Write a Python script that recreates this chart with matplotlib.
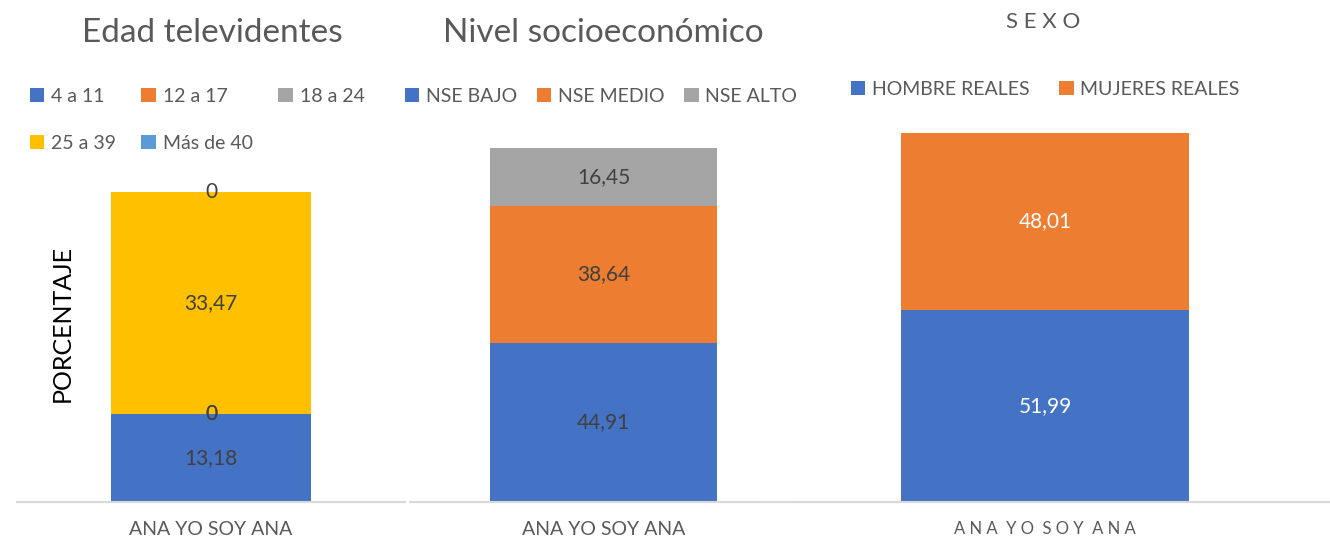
import numpy as np
import matplotlib
matplotlib.use('Agg')
import matplotlib.pyplot as plt

plt.rcParams['font.family'] = ['Lato', 'DejaVu Sans']

# data
categoria = ['ANA YO SOY ANA']
edad_series = ['4 a 11', '12 a 17', '18 a 24', '25 a 39', 'Más de 40']
edad_vals = [13.18, 0, 0, 33.47, 0]
nse_series = ['NSE BAJO', 'NSE MEDIO', 'NSE ALTO']
nse_vals = [44.91, 38.64, 16.45]
sexo_series = ['HOMBRE REALES', 'MUJERES REALES']
sexo_vals = [51.99, 48.01]

c_blue = '#4472C4'
c_orange = '#ED7D31'
c_gray = '#A5A5A5'
c_yellow = '#FFC000'
c_lblue = '#5B9BD5'
txt = '#595959'
lbl = '#404040'

W, H = 1330, 545
fig = plt.figure(figsize=(W / 100, H / 100), dpi=100)


def px_axes(x0, x1, ytop, ybot=502):
    return fig.add_axes([x0 / W, 1 - ybot / H, (x1 - x0) / W, (ybot - ytop) / H])


def stacked(ax, series, vals, colors, width, label_color):
    bottom = 0
    handles = []
    for s, v, c in zip(series, vals, colors):
        b = ax.bar(0, v, width, bottom=bottom, color=c, label=s)
        ax.bar_label(b, labels=[('%.2f' % v).replace('.', ',') if v else '0'],
                     label_type='center', color=label_color, fontsize=15)
        handles.append(b)
        bottom += v
    ax.set_xlim(-0.5, 0.5)
    ax.set_yticks([])
    for sp in ['top', 'right', 'left']:
        ax.spines[sp].set_visible(False)
    ax.spines['bottom'].set_color('#D9D9D9')
    ax.spines['bottom'].set_linewidth(1.5)
    ax.set_xticks([0])
    ax.tick_params(axis='x', length=0, pad=14, colors=txt)
    return handles


# panel 1 - edad
ax1 = px_axes(17, 405, 133)
h1 = stacked(ax1, edad_series, edad_vals, [c_blue, c_orange, c_gray, c_yellow, c_lblue],
             200 / 388, lbl)
ax1.set_ylim(0, 55.5)
ax1.set_xticklabels(categoria, fontsize=14)
fig.text(62 / W, 1 - 324 / H, 'PORCENTAJE', fontsize=18, color='black',
         rotation=90, ha='center', va='center')
order = [0, 3, 1, 4, 2]
ax1.legend([h1[i] for i in order], [edad_series[i] for i in order], ncol=3,
           loc='upper left', bbox_to_anchor=(22 / W, 1 - 80 / H),
           bbox_transform=fig.transFigure, frameon=False, fontsize=14,
           handlelength=0.75, handleheight=0.75, handletextpad=0.35,
           columnspacing=1.3, labelspacing=1.55, labelcolor=txt, borderaxespad=0)
fig.text(212 / W, 1 - 33 / H, 'Edad televidentes', fontsize=24, color=txt,
         ha='center', va='center')

# panel 2 - NSE
ax2 = px_axes(410, 797, 133)
h2 = stacked(ax2, nse_series, nse_vals, [c_blue, c_orange, c_gray], 227 / 387, lbl)
ax2.set_ylim(0, 104.2)
ax2.set_xticklabels(categoria, fontsize=14)
ax2.legend(h2, nse_series, ncol=3, loc='upper left',
           bbox_to_anchor=(397 / W, 1 - 80 / H), bbox_transform=fig.transFigure,
           frameon=False, fontsize=14, handlelength=0.75, handleheight=0.75,
           handletextpad=0.35, columnspacing=1.0, labelcolor=txt, borderaxespad=0)
fig.text(603 / W, 1 - 33 / H, 'Nivel socioeconómico', fontsize=24, color=txt,
         ha='center', va='center')

# panel 3 - sexo
ax3 = px_axes(760, 1330, 133)
h3 = stacked(ax3, sexo_series, sexo_vals, [c_blue, c_orange], 288 / 570, 'white')
ax3.set_ylim(0, 100)
ax3.set_xticklabels([' '.join(categoria[0]).replace('   ', '  ')], fontsize=12)
ax3.legend(h3, sexo_series, ncol=2, loc='upper left',
           bbox_to_anchor=(843 / W, 1 - 73 / H), bbox_transform=fig.transFigure,
           frameon=False, fontsize=14, handlelength=0.75, handleheight=0.75,
           handletextpad=0.35, columnspacing=1.5, labelcolor=txt, borderaxespad=0)
fig.text(1043 / W, 1 - 22 / H, 'S E X O', fontsize=16, color=txt,
         ha='center', va='center')

fig.savefig('out.png', dpi=100)
